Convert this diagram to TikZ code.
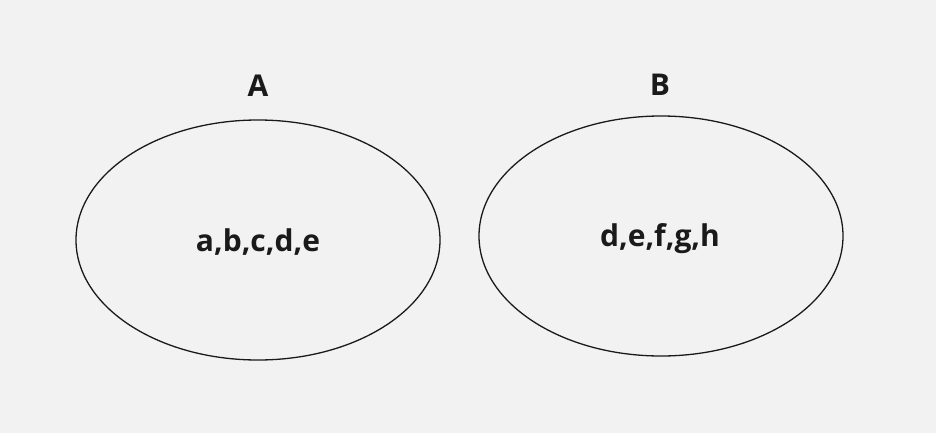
\documentclass[tikz,border=0pt]{standalone}
\usepackage{fontspec}
\setmainfont{Open Sans}
\definecolor{bg}{HTML}{F2F2F2}
\definecolor{ink}{HTML}{1A1A1A}
\begin{document}
\begin{tikzpicture}[x=1pt,y=-1pt,
  setline/.style={draw=ink,line width=1.3pt},
  lbl/.style={text=ink,font=\fontsize{30}{34}\selectfont\bfseries,inner sep=0pt}]
\fill[bg] (0,0) rectangle (936,433);
\useasboundingbox (0,0) rectangle (936,433);
\draw[setline] (258,240) ellipse [x radius=182, y radius=120];
\draw[setline] (661,236) ellipse [x radius=182, y radius=120];
\node[lbl] (la) at (258,86) {A};
\node[lbl] (lb) at (660,85) {B};
\node[lbl] (ea) at (258,242.5) {a,b,c,d,e};
\node[lbl] (eb) at (660,239) {d,e,f,g,h};
\end{tikzpicture}
\end{document}
